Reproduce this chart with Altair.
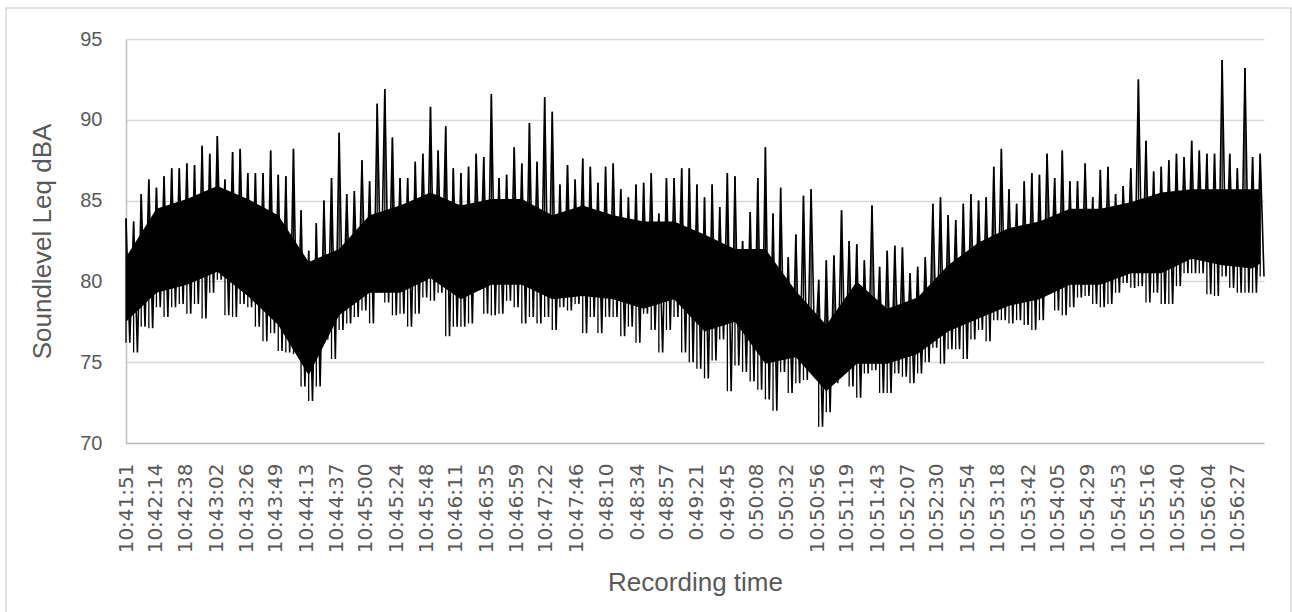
import altair as alt
import pandas as pd

# Sound level record, 10:41:51 onwards. Each 6 s window is summarised by
# its highest and lowest Leq reading (dBA).
STEP_S = 6
peak_db = [
    83.9, 83.7, 85.4, 86.3, 85.8, 86.5, 87.0, 87.0, 87.3, 87.2,
    88.4, 87.9, 89.0, 86.3, 88.0, 88.2, 86.7, 86.7, 86.7, 88.1,
    86.6, 86.5, 88.2, 84.4, 81.9, 83.6, 85.0, 86.4, 89.2, 85.4,
    85.6, 87.5, 86.2, 91.0, 91.9, 88.9, 86.4, 86.4, 87.4, 87.9,
    90.8, 88.1, 89.6, 87.0, 86.7, 87.1, 87.9, 87.7, 91.6, 86.4,
    86.6, 88.3, 87.3, 89.8, 87.4, 91.4, 90.5, 86.0, 87.2, 86.3,
    87.6, 87.1, 86.1, 87.1, 87.3, 85.7, 85.2, 86.0, 86.1, 86.7,
    84.2, 86.4, 86.4, 87.0, 87.0, 86.0, 85.2, 86.0, 84.6, 86.7,
    86.5, 82.5, 84.3, 86.4, 88.3, 84.2, 85.8, 81.5, 82.9, 85.3,
    85.7, 80.1, 81.3, 81.6, 84.4, 82.5, 82.3, 81.3, 84.7, 80.9,
    81.9, 82.2, 82.1, 80.5, 80.9, 81.5, 84.8, 85.2, 84.1, 83.8,
    84.8, 85.4, 85.0, 85.2, 87.1, 88.2, 85.7, 84.8, 86.2, 86.7,
    86.6, 87.9, 86.4, 88.1, 86.2, 86.2, 87.3, 85.2, 86.9, 87.1,
    85.4, 85.9, 87.0, 92.5, 88.7, 86.8, 87.1, 87.5, 87.9, 87.7,
    88.7, 88.1, 87.9, 87.9, 93.7, 87.9, 87.0, 93.2, 87.7, 87.9,
]
trough_db = [
    76.2, 75.6, 77.2, 77.1, 78.4, 77.8, 78.4, 78.6, 78.0, 78.6,
    77.7, 79.3, 80.1, 77.9, 77.8, 78.6, 78.4, 77.2, 76.3, 76.8,
    75.7, 75.6, 75.5, 73.5, 72.6, 73.5, 76.4, 75.2, 77.0, 77.4,
    77.8, 78.2, 77.4, 79.3, 78.7, 77.9, 78.0, 77.2, 78.0, 79.0,
    78.8, 79.3, 76.6, 77.2, 77.2, 77.4, 79.7, 78.0, 77.9, 78.0,
    78.8, 78.4, 77.4, 77.8, 77.4, 77.8, 77.0, 78.4, 78.2, 78.6,
    76.8, 77.8, 76.8, 77.8, 77.8, 76.6, 77.2, 76.2, 78.0, 77.0,
    75.6, 77.0, 77.8, 75.6, 75.0, 74.6, 74.0, 75.1, 76.4, 73.2,
    74.8, 74.4, 73.8, 73.3, 72.7, 72.0, 74.4, 73.1, 73.7, 73.9,
    75.1, 71.0, 71.9, 73.7, 74.3, 73.5, 72.8, 74.3, 74.5, 73.1,
    73.1, 74.3, 74.1, 73.7, 74.3, 75.0, 75.9, 74.9, 75.8, 75.8,
    75.2, 76.4, 77.0, 76.3, 77.6, 77.6, 77.4, 77.6, 77.3, 77.0,
    77.6, 80.0, 78.2, 77.9, 78.4, 79.0, 79.1, 78.6, 78.4, 78.6,
    79.3, 79.9, 79.6, 79.7, 78.7, 79.3, 78.6, 78.6, 79.7, 80.5,
    80.5, 80.5, 79.2, 79.1, 80.3, 79.6, 79.3, 79.3, 79.3, 80.3,
]

# Dense body of the trace: range held by most readings, every 24 s.
core_seconds = [
    0, 24, 48, 72, 96, 120, 144, 168, 192, 216, 240, 264, 288,
    312, 336, 360, 384, 408, 432, 456, 480, 504, 528, 552, 576,
    600, 624, 648, 672, 696, 720, 744, 768, 792, 816, 840, 864, 888, 894,
]
core_top_db = [
    81.5, 84.5, 85.1, 85.9, 85.1, 84.1, 81.2, 82.0, 84.1, 84.7,
    85.5, 84.7, 85.1, 85.1, 84.1, 84.7, 84.1, 83.7, 83.7, 82.9,
    82.0, 82.0, 79.4, 77.3, 80.0, 78.3, 79.0, 81.0, 82.4, 83.3,
    83.7, 84.5, 84.5, 84.9, 85.5, 85.7, 85.7, 85.7, 85.7,
]
core_bottom_db = [
    77.5, 79.3, 79.8, 80.6, 79.1, 77.3, 74.2, 77.9, 79.3, 79.3,
    80.2, 78.9, 79.8, 79.8, 78.9, 79.1, 78.9, 78.3, 78.9, 76.9,
    77.5, 74.9, 75.3, 73.2, 74.9, 74.9, 75.5, 76.9, 77.7, 78.5,
    78.9, 79.8, 79.8, 80.5, 80.5, 81.4, 81.0, 80.8, 81.1,
]

# Category labels shown along the time axis (seconds after the first one).
tick_seconds = [
    0, 23, 47, 71, 95, 118, 142, 166, 189, 213, 237, 260, 284, 308,
    331, 355, 379, 403, 426, 450, 474, 497, 521, 545, 568, 592, 616,
    639, 663, 687, 711, 734, 758, 782, 805, 829, 853, 876,
]
tick_labels = [
    "10:41:51", "10:42:14", "10:42:38", "10:43:02", "10:43:26", "10:43:49",
    "10:44:13", "10:44:37", "10:45:00", "10:45:24", "10:45:48", "10:46:11",
    "10:46:35", "10:46:59", "10:47:22", "10:47:46", "0:48:10", "0:48:34",
    "0:48:57", "0:49:21", "0:49:45", "0:50:08", "0:50:32", "10:50:56",
    "10:51:19", "10:51:43", "10:52:07", "10:52:30", "10:52:54", "10:53:18",
    "10:53:42", "10:54:05", "10:54:29", "10:54:53", "10:55:16", "10:55:40",
    "10:56:04", "10:56:27",
]
y_ticks = [70, 75, 80, 85, 90, 95]

# Trace alternates between each window's peak and trough.
trace_rows = []
for i, (hi, lo) in enumerate(zip(peak_db, trough_db)):
    trace_rows.append({"t": i * STEP_S, "level": hi, "seq": 2 * i})
    trace_rows.append({"t": i * STEP_S + STEP_S / 2, "level": lo, "seq": 2 * i + 1})
trace = pd.DataFrame(trace_rows)

# Full excursion of each window as a vertical stroke.
windows = pd.DataFrame({
    "t": [i * STEP_S for i in range(len(peak_db))],
    "hi": peak_db,
    "lo": trough_db,
})

core = pd.DataFrame({"t": core_seconds, "top": core_top_db, "bottom": core_bottom_db})

label_expr = (
    "[" + ",".join(f"'{s}'" for s in tick_labels) + "]"
    + "[indexof([" + ",".join(str(v) for v in tick_seconds) + "], datum.value)]"
)

TEXT = "#595959"
x_scale = alt.Scale(domain=[0, 897], nice=False, zero=False)
y_scale = alt.Scale(domain=[70, 95], nice=False, zero=False)

x_axis = alt.Axis(
    values=tick_seconds, labelExpr=label_expr, labelAngle=270,
    labelFont="DejaVu Sans", labelFontSize=20, labelColor=TEXT,
    labelPadding=20, labelOverlap=False, labelFlush=False,
    ticks=False, tickSize=0, grid=False,
    domainColor="#bfbfbf", domainWidth=1.5,
    title="Recording time", titleFont="Liberation Sans", titleFontSize=26,
    titleFontWeight="normal", titleColor=TEXT,
    titleX=569, titleY=139, titleAlign="center", titleBaseline="middle",
)
y_axis = alt.Axis(
    values=y_ticks, labelFont="Liberation Sans", labelFontSize=20,
    labelColor=TEXT, labelPadding=24, ticks=False, tickSize=0,
    grid=True, gridColor="#d9d9d9", gridWidth=1.5,
    domainColor="#bfbfbf", domainWidth=1.5,
    title="Soundlevel Leq dBA", titleFont="Liberation Sans", titleFontSize=26,
    titleFontWeight="normal", titleColor=TEXT, titleAngle=270,
    titleX=-84, titleY=202, titleAlign="center", titleBaseline="middle",
)

frame = alt.Chart(alt.Data(values=[{}])).mark_rect(
    fillOpacity=0, stroke="#d9d9d9", strokeWidth=1.5
).encode(
    x=alt.value(-120), x2=alt.value(1165), y=alt.value(-31), y2=alt.value(700)
)

body = alt.Chart(core).mark_area(color="black", opacity=1).encode(
    x=alt.X("t:Q", scale=x_scale, axis=x_axis),
    y=alt.Y("top:Q", scale=y_scale, axis=y_axis),
    y2="bottom:Q",
)

strokes = alt.Chart(windows).mark_rule(color="black", strokeWidth=1.3).encode(
    x=alt.X("t:Q", scale=x_scale, axis=x_axis),
    y=alt.Y("hi:Q", scale=y_scale, axis=y_axis),
    y2="lo:Q",
)

line = alt.Chart(trace).mark_line(
    color="black", strokeWidth=1.6, strokeJoin="bevel"
).encode(
    x=alt.X("t:Q", scale=x_scale, axis=x_axis),
    y=alt.Y("level:Q", scale=y_scale, axis=y_axis),
    order="seq:Q",
)

chart = alt.layer(frame, body, strokes, line).properties(
    width=1138, height=404,
    autosize=alt.AutoSizeParams(type="none"),
    padding={"left": 126, "top": 39, "right": 28, "bottom": 169},
    background="white",
).configure_view(stroke=None)

chart.save("out.html", embed_options={"renderer": "svg", "actions": False})
